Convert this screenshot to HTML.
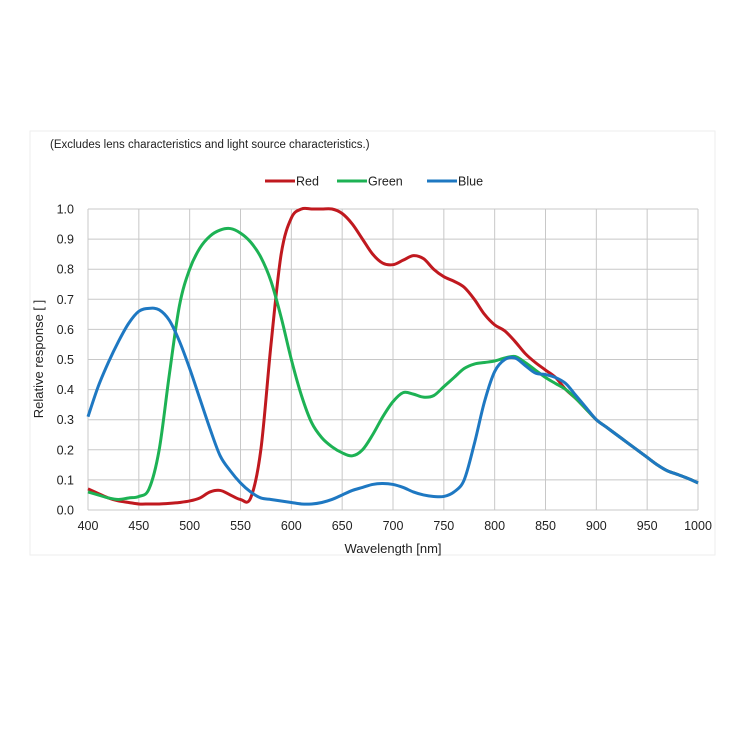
<!DOCTYPE html>
<html><head><meta charset="utf-8"><style>
body{margin:0;background:#fff;width:750px;height:750px;overflow:hidden;font-family:"Liberation Sans",Arial,sans-serif}
</style></head><body>
<svg width="750" height="750">
<rect x="30" y="131" width="685" height="424" fill="#fff" stroke="#eee"/>
<text x="50" y="148" font-size="11.5" fill="#222">(Excludes lens characteristics and light source characteristics.)</text>
<g id="legend"></g>
<g id="grid"></g>
<g id="series"></g>
<text x="393" y="553" font-size="13" text-anchor="middle" fill="#222">Wavelength [nm]</text>
<text transform="translate(43,359) rotate(-90)" font-size="13" text-anchor="middle" fill="#222">Relative response [ ]</text>
</svg>
<script>
const wavelengths=[400,410,420,430,440,450,460,470,480,490,500,510,520,530,540,550,560,570,580,590,600,610,620,630,640,650,660,670,680,690,700,710,720,730,740,750,760,770,780,790,800,810,820,830,840,850,860,870,880,890,900,910,920,930,940,950,960,970,980,990,1000];
const tail=[.3,.275,.25,.225,.2,.175,.15,.13,.118,.105,.09];
const red=[.07,.055,.04,.03,.025,.02,.02,.02,.022,.025,.03,.04,.06,.065,.05,.035,.04,.2,.55,.85,.97,1,1,1,1,.985,.95,.9,.85,.82,.815,.83,.845,.835,.8,.775,.76,.74,.7,.65,.615,.595,.56,.52,.49,.465,.44,.4,.37,.335,.3,.275,.25,.225,.2,.175,.15,.13,.118,.105,.09];
const green=[.06,.05,.04,.035,.04,.045,.07,.2,.45,.68,.8,.87,.91,.93,.935,.92,.89,.84,.76,.64,.5,.38,.29,.24,.21,.19,.18,.2,.25,.31,.36,.39,.385,.375,.38,.41,.44,.47,.485,.49,.495,.505,.51,.49,.465,.44,.42,.4,.37,.335,.3,.275,.25,.225,.2,.175,.15,.13,.118,.105,.09];
const blue=[.31,.41,.49,.56,.62,.66,.67,.665,.63,.56,.47,.37,.27,.18,.13,.09,.06,.04,.035,.03,.025,.02,.02,.025,.035,.05,.065,.075,.085,.088,.085,.075,.06,.05,.045,.045,.06,.1,.22,.36,.46,.5,.505,.48,.455,.45,.44,.42,.38,.34,.3,.275,.25,.225,.2,.175,.15,.13,.118,.105,.09];
const xTicks=[400,450,500,550,600,650,700,750,800,850,900,950,1000];
const yTicks=[0,0.1,0.2,0.3,0.4,0.5,0.6,0.7,0.8,0.9,1.0];
const seriesNames=["Red","Green","Blue"];
const colors=["#c0191f","#1db254","#1e78c2"];
const X=v=>88+(v-400)*610/600, Y=v=>510-v*301;
const NS="http://www.w3.org/2000/svg";
function mk(t,a,p){const e=document.createElementNS(NS,t);for(const k in a)e.setAttribute(k,a[k]);p.appendChild(e);return e;}
const grid=document.getElementById('grid');
xTicks.forEach(t=>{
 const l=mk('line',{x1:X(t),x2:X(t),y1:Y(1),y2:Y(0),stroke:"#c8c8c8","stroke-width":1},grid);
 
 
 const tx=mk('text',{x:X(t),y:530,"font-size":12.5,"text-anchor":"middle",fill:"#222"},grid);tx.textContent=t;
 
 
});
yTicks.forEach(t=>{
 const l=mk('line',{x1:X(400),x2:X(1000),y1:Y(t),y2:Y(t),stroke:"#c8c8c8","stroke-width":1},grid);
 
 
 const tx=mk('text',{x:74,y:Y(t)+4.5,"font-size":12.5,"text-anchor":"end",fill:"#222"},grid);tx.textContent=t.toFixed(1);
 
 
});
function path(vals){
 const p=vals.map((v,i)=>[X(wavelengths[i]),Y(v)]);
 let d="M"+p[0][0]+","+p[0][1];
 for(let i=0;i<p.length-1;i++){
  const p0=p[i-1]||p[i],p1=p[i],p2=p[i+1],p3=p[i+2]||p[i+1];
  d+=" C"+(p1[0]+(p2[0]-p0[0])/6)+","+(p1[1]+(p2[1]-p0[1])/6)+" "+(p2[0]-(p3[0]-p1[0])/6)+","+(p2[1]-(p3[1]-p1[1])/6)+" "+p2[0]+","+p2[1];
 }
 return d;
}
const sg=document.getElementById('series');
[red,green,blue].forEach((s,i)=>{
 const e=mk('path',{d:path(s),fill:"none",stroke:colors[i],"stroke-width":3,"stroke-linejoin":"round"},sg);
 
 
});
const lg=document.getElementById('legend');
const lx=[265,337,427];
seriesNames.forEach((n,i)=>{
 const l=mk('line',{x1:lx[i],x2:lx[i]+30,y1:181,y2:181,stroke:colors[i],"stroke-width":3},lg);
 
 
 const t=mk('text',{x:lx[i]+31,y:185.5,"font-size":12.5,fill:"#222"},lg);t.textContent=n;
 
 
});
</script>
</body></html>
